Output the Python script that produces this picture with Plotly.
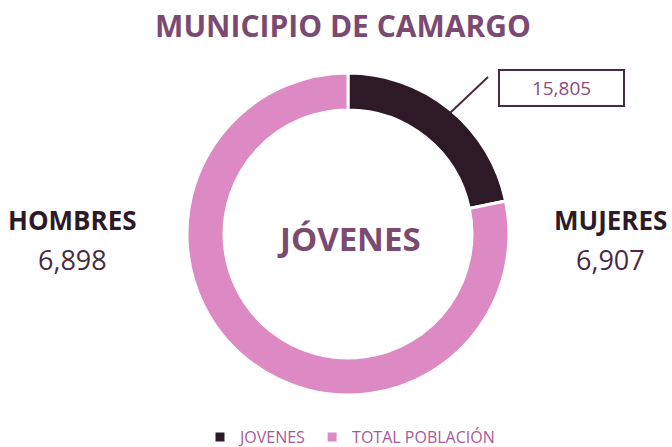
import plotly.graph_objects as go

title_text = "MUNICIPIO DE CAMARGO"
labels = ["JOVENES", "TOTAL POBLACIÓN"]
values = [15805, 57000]
colors = ["#2d1a26", "#dd89c4"]
center_label = "JÓVENES"
side_labels = ["HOMBRES", "MUJERES"]
side_values = [6898, 6907]

W, H = 672, 447
ml, mr, mt, mb = 187, 163, 73, 52
pw, ph = W - ml - mr, H - mt - mb

def px(x):
    return (x - ml) / pw

def py(y):
    return (H - mb - y) / ph

fig = go.Figure(go.Pie(
    labels=labels, values=values, hole=0.77, sort=False, direction="clockwise",
    rotation=0, marker=dict(colors=colors, line=dict(color="white", width=3)),
    textinfo="none", hoverinfo="label+value",
))

def add(x, y, text, font, **kw):
    d = dict(x=px(x), y=py(y), xref="paper", yref="paper", text=text, showarrow=False,
             xanchor="center", yanchor="middle", font=font)
    d.update(kw)
    return d

ann = [
    add(349, 238, "<b>%s</b>" % center_label, dict(family="Open Sans", size=33, color="#7b4a72")),
    add(72, 220, "<b>%s</b>" % side_labels[0], dict(family="Open Sans", size=26, color="#2d1a28")),
    add(72, 259, f"{side_values[0]:,}", dict(family="Open Sans", size=27, color="#4a2a40")),
    add(610, 220, "<b>%s</b>" % side_labels[1], dict(family="Open Sans", size=26, color="#2d1a28")),
    add(610, 259, f"{side_values[1]:,}", dict(family="Open Sans", size=27, color="#4a2a40")),
    add(561, 88, f"{values[0]:,}", dict(family="Open Sans", size=19, color="#8a4a80"),
        width=121, height=32, bordercolor="#4a2a40", borderwidth=2, bgcolor="white"),
]

fig.update_layout(
    width=W, height=H,
    margin=dict(l=ml, r=mr, t=mt, b=mb),
    paper_bgcolor="white", plot_bgcolor="white",
    title=dict(text="<b>%s</b>" % title_text, x=343 / W, xanchor="center", y=1 - 26 / H, yanchor="middle",
               font=dict(family="Open Sans", size=30, color="#7b4a72")),
    showlegend=True,
    legend=dict(orientation="h", xref="container", yref="container", x=350 / W, xanchor="center",
                y=1 - 437 / H, yanchor="middle", font=dict(family="Open Sans", size=16, color="#a85a98"),
                itemwidth=30),
    annotations=ann,
    shapes=[dict(type="line", xref="paper", yref="paper", x0=px(450), y0=py(113), x1=px(488), y1=py(77),
                 line=dict(color="#4a2a40", width=2))],
)

fig.write_html("out.html", config={"displayModeBar": False},
               post_script="document.body.style.margin='0';")
